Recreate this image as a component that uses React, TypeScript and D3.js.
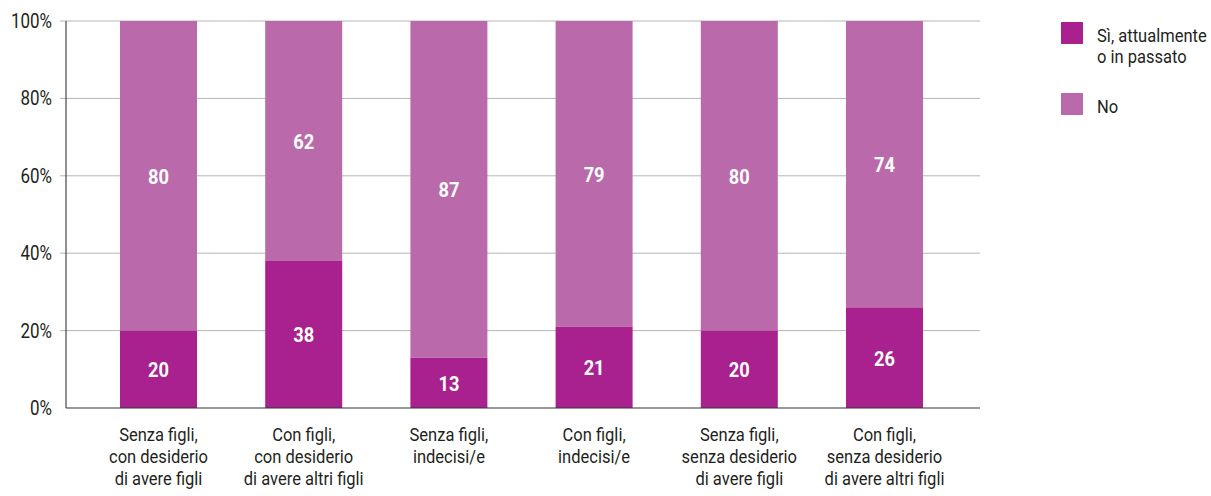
import React from "react";
import * as d3 from "d3";

const categories: string[][] = [
  ["Senza figli,", "con desiderio", "di avere figli"],
  ["Con figli,", "con desiderio", "di avere altri figli"],
  ["Senza figli,", "indecisi/e"],
  ["Con figli,", "indecisi/e"],
  ["Senza figli,", "senza desiderio", "di avere figli"],
  ["Con figli,", "senza desiderio", "di avere altri figli"],
];
const siValues = [20, 38, 13, 21, 20, 26];
const noValues = [80, 62, 87, 79, 80, 74];
const yTicks = [0, 20, 40, 60, 80, 100];
const seriesNames = [["Sì, attualmente", "o in passato"], ["No"]];

const DARK = "#A8218E";
const LIGHT = "#BA6AAA";
const FONT = "Roboto, 'Noto Sans', sans-serif";
const SX = 0.87;

type CTProps = {
  x: number;
  y: number;
  lines: string[];
  size: number;
  anchor?: "start" | "middle" | "end";
  weight?: string;
  fill?: string;
  lh?: number;
};

function CText({ x, y, lines, size, anchor = "start", weight = "normal", fill = "#231f20", lh = 22 }: CTProps) {
  return (
    <text
      transform={`translate(${x},${y}) scale(${SX},1)`}
      textAnchor={anchor}
      fontSize={size}
      fontWeight={weight}
      fill={fill}
      fontFamily={FONT}
    >
      {lines.map((l, k) => (
        <tspan key={k} x={0} y={k * lh}>
          {l}
        </tspan>
      ))}
    </text>
  );
}

export default function App() {
  const W = 1211, H = 496;
  const y = d3.scaleLinear().domain([0, 100]).range([408, 21]);
  const x = d3.scalePoint<number>().domain(d3.range(categories.length)).range([158.5, 884.5]);
  const bw = 77;
  const axisX = 66, gridX0 = 60, gridX1 = 980;

  return (
    <svg width={W} height={H} style={{ position: "absolute", left: 0, top: 0 }}>
      {yTicks.map((t) => (
        <g key={t}>
          {t > 0 && (
            <line x1={gridX0} x2={gridX1} y1={y(t)} y2={y(t)} stroke="#b5b5b5" strokeWidth={1} />
          )}
          <CText x={52} y={y(t) + 7} lines={[`${t}%`]} size={19.5} anchor="end" />
        </g>
      ))}
      {categories.map((c, i) => {
        const cx = x(i)!;
        const si = siValues[i];
        const no = noValues[i];
        return (
          <g key={i}>
            <rect x={cx - bw / 2} y={y(si + no)} width={bw} height={y(si) - y(si + no)} fill={LIGHT} />
            <rect x={cx - bw / 2} y={y(si)} width={bw} height={y(0) - y(si)} fill={DARK} />
            <CText
              x={cx}
              y={(y(si + no) + y(si)) / 2 + 8}
              lines={[`${no}`]}
              size={21}
              weight="bold"
              anchor="middle"
              fill="#fff"
            />
            <CText
              x={cx}
              y={(y(si) + y(0)) / 2 + 8}
              lines={[`${si}`]}
              size={21}
              weight="bold"
              anchor="middle"
              fill="#fff"
            />
            <CText x={cx} y={441} lines={c} size={19} anchor="middle" lh={22} />
          </g>
        );
      })}
      <line x1={axisX} x2={axisX} y1={21} y2={408} stroke="#231f20" strokeWidth={1} />
      <line x1={axisX} x2={gridX1} y1={408} y2={408} stroke="#333" strokeWidth={1.2} />
      {seriesNames.map((s, i) => {
        const ly = i === 0 ? 22 : 93;
        return (
          <g key={i}>
            <rect x={1061} y={ly} width={22} height={22} fill={i === 0 ? DARK : LIGHT} />
            <CText x={1097} y={ly + 20} lines={s} size={19} lh={21} />
          </g>
        );
      })}
    </svg>
  );
}
